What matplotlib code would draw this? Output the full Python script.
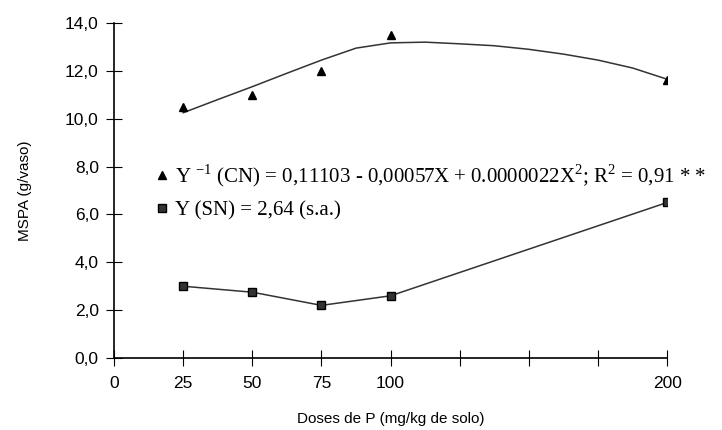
import matplotlib
matplotlib.use('Agg')
import matplotlib.pyplot as plt

# doses de P (mg/kg de solo)
doses = [25, 50, 75, 100, 200]
cn = [10.5, 11.0, 12.0, 13.5, 11.6]   # com N (triangulos)
sn = [3.0, 2.75, 2.2, 2.6, 6.5]       # sem N (quadrados)

# curva ajustada CN
fit_x = [25, 37.5, 50, 62.5, 75, 87.5, 100, 112.5, 125, 137.5, 150, 162.5, 175, 187.5, 200]
fit_y = [10.25, 10.8, 11.34, 11.9, 12.45, 12.95, 13.17, 13.2, 13.13, 13.05, 12.9, 12.7, 12.45, 12.12, 11.65]

xticks = [0, 25, 50, 75, 100, 125, 150, 175, 200]
xticklabels = ['0', '25', '50', '75', '100', '', '', '', '200']
yticks = [0, 2, 4, 6, 8, 10, 12, 14]
yticklabels = ['0,0', '2,0', '4,0', '6,0', '8,0', '10,0', '12,0', '14,0']

cn_label = 'Y $^{-1}$ (CN) = 0,11103 - 0,00057X + 0.0000022X$^{2}$; R$^{2}$ = 0,91 * *'
sn_label = 'Y (SN) = 2,64 (s.a.)'

plt.rcParams['font.family'] = ['Liberation Sans', 'DejaVu Sans']
plt.rcParams['mathtext.fontset'] = 'custom'
plt.rcParams['mathtext.rm'] = 'Liberation Serif'

fig = plt.figure(figsize=(7.22, 4.30), dpi=100)
ax = fig.add_axes([0.158, 0.1674, 0.766, 0.7791])

ax.plot(fit_x, fit_y, '-', color='#333333', lw=1.1)
tri, = ax.plot(doses, cn, '^', color='black', ms=5.5, ls='none')
ax.plot(doses, sn, '-', color='#333333', lw=1.1)
sq, = ax.plot(doses, sn, 's', color='black', mfc='#333333', ms=6, ls='none')

ax.set_xlim(0, 200)
ax.set_ylim(0, 14)
ax.set_xticks(xticks)
ax.set_xticklabels(xticklabels)
ax.set_yticks(yticks)
ax.set_yticklabels(yticklabels)
ax.tick_params(direction='inout', length=12, width=0.8, labelsize=12.5, colors='black')
ax.tick_params(axis='x', pad=7)
ax.tick_params(axis='y', pad=5)
for s in ['top', 'right']:
  ax.spines[s].set_visible(False)
for s in ['left', 'bottom']:
  ax.spines[s].set_linewidth(1.2)

ax.set_xlabel('Doses de P (mg/kg de solo)', fontsize=11, labelpad=15)
ax.set_ylabel('MSPA (g/vaso)', fontsize=11, labelpad=24)

leg = ax.legend([tri, sq], [cn_label, sn_label], loc='upper left',
                bbox_to_anchor=(0.043, 0.64), frameon=False,
                handlelength=0.5, handletextpad=0.4, labelspacing=0.55,
                prop={'family': 'Liberation Serif', 'size': 15})

fig.savefig('out.png', dpi=100)
